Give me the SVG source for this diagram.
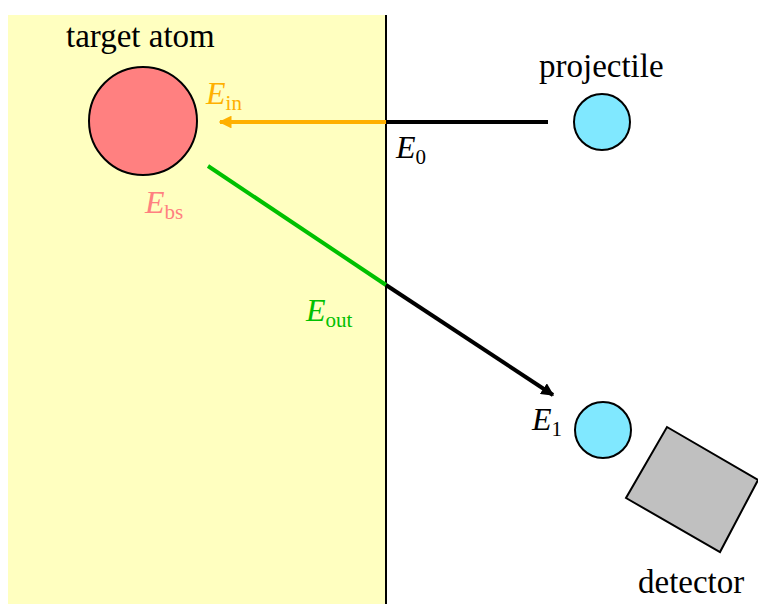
<svg xmlns="http://www.w3.org/2000/svg" width="758" height="604" viewBox="0 0 758 604">
<style>
text{font-family:"Liberation Serif","Times New Roman","DejaVu Serif",serif;}
.lbl{font-size:33px;fill:#000;}
.e{font-size:32px;font-style:italic;}
.sub{font-size:21px;font-style:normal;}
.ball{stroke:#000;stroke-width:2;}
</style>
<defs>
<marker id="ao" viewBox="0 0 10 10" refX="9" refY="5" markerWidth="3.2" markerHeight="3.2" orient="auto" markerUnits="strokeWidth">
<path d="M0,0 L10,5 L0,10 z" fill="#FFB000"/>
</marker>
<marker id="ak" viewBox="0 0 10 10" refX="9" refY="5" markerWidth="3.2" markerHeight="3.2" orient="auto" markerUnits="strokeWidth">
<path d="M0,0 L10,5 L0,10 z" fill="#000"/>
</marker>
</defs>
<rect x="0" y="0" width="758" height="604" fill="#fff"/>
<g id="target-region">
<rect x="8" y="15" width="378" height="590" fill="#FFFFC0"/>
<line x1="386" y1="15" x2="386" y2="604" stroke="#000" stroke-width="2"/>
</g>
<g id="connectors">
<line x1="548" y1="122" x2="386" y2="122" stroke="#000" stroke-width="4"/>
<line x1="386" y1="122" x2="220" y2="122" stroke="#FFB000" stroke-width="4" marker-end="url(#ao)"/>
<line x1="208" y1="166" x2="386" y2="285" stroke="#00C000" stroke-width="4"/>
<line x1="386" y1="285" x2="553" y2="395" stroke="#000" stroke-width="4" marker-end="url(#ak)"/>
</g>
<g id="target-atom">
<circle cx="143" cy="121" r="54" fill="#FF8080" class="ball"/>
<text x="66" y="47" class="lbl">target atom</text>
</g>
<g id="projectile">
<circle cx="602" cy="122" r="28" fill="#80E8FF" class="ball"/>
<text x="539" y="77" class="lbl">projectile</text>
</g>
<g id="scattered">
<circle cx="603" cy="430" r="28" fill="#80E8FF" class="ball"/>
</g>
<g id="detector">
<polygon points="667,427 758,480 720,552 626,498" fill="#C0C0C0" stroke="#000" stroke-width="2"/>
<text x="638" y="593" class="lbl">detector</text>
</g>
<g id="labels">
<text x="206" y="104" class="e" fill="#FFB000">E<tspan class="sub" dy="6">in</tspan></text>
<text x="396" y="158" class="e" fill="#000">E<tspan class="sub" dy="6">0</tspan></text>
<text x="145" y="213" class="e" fill="#FF8080">E<tspan class="sub" dy="6">bs</tspan></text>
<text x="306" y="321" class="e" fill="#00C000">E<tspan class="sub" dy="6">out</tspan></text>
<text x="532" y="430" class="e" fill="#000">E<tspan class="sub" dy="6">1</tspan></text>
</g>
</svg>
